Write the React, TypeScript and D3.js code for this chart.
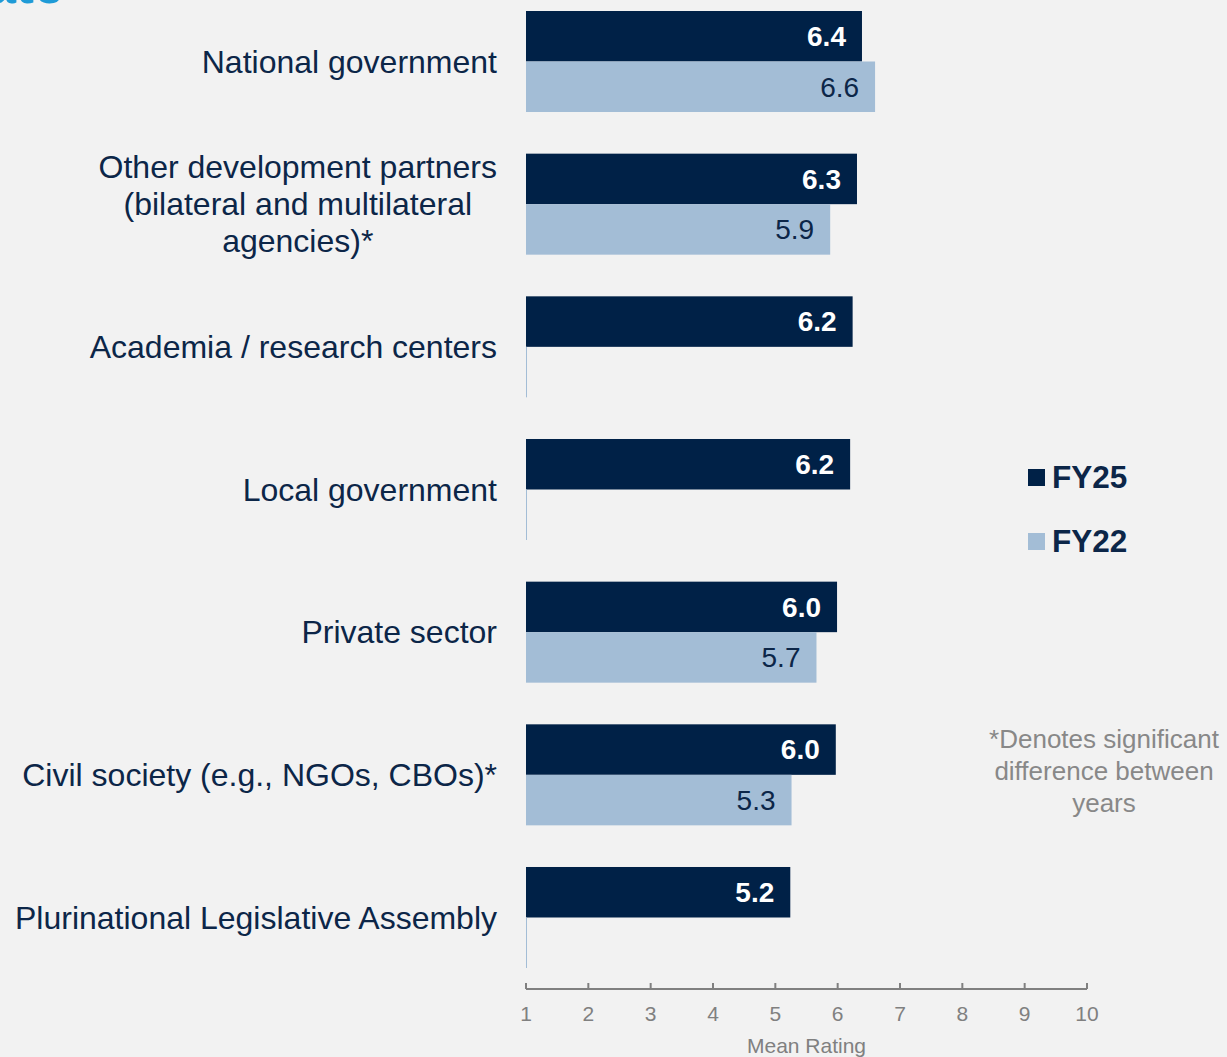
import React, { useEffect, useRef } from "react";
import * as d3 from "d3";

const categories = [
  "National government",
  "Other development partners|(bilateral and multilateral|agencies)*",
  "Academia / research centers",
  "Local government",
  "Private sector",
  "Civil society (e.g., NGOs, CBOs)*",
  "Plurinational Legislative Assembly",
];
const fy25 = [6.39, 6.31, 6.24, 6.2, 5.99, 5.97, 5.24];
const fy22: (number | null)[] = [6.6, 5.88, null, null, 5.66, 5.26, null];
const series = ["FY25", "FY22"];
const ticks = [1, 2, 3, 4, 5, 6, 7, 8, 9, 10];
const footnote = ["*Denotes significant", "difference between", "years"];

const W = 1227;
const H = 1057;
const FONT = "'Liberation Sans', Arial, Helvetica, sans-serif";
const NAVY = "#002147";
const LIGHT = "#a3bdd6";
const TEXT = "#0c2648";
const GRAY = "#888888";
const AXIS = "#808080";

export default function App() {
  const ref = useRef<SVGSVGElement>(null);
  useEffect(() => {
    const svg = d3.select(ref.current);
    svg.selectAll("*").remove();
    svg.append("rect").attr("width", W).attr("height", H).attr("fill", "#f2f2f2");

    // cropped title remnant (title lies above the visible area)
    svg.append("text").attr("x", -14).attr("y", 3).attr("font-family", FONT)
      .attr("font-weight", "bold").attr("font-size", 54).attr("fill", "#1f9bd7").text("ate");

    const x = d3.scaleLinear().domain([1, 10]).range([526, 1087]);
    const y = d3.scaleBand<number>().domain(d3.range(categories.length)).range([11, 968])
      .paddingInner(0.292).paddingOuter(0);
    const ys = d3.scaleBand<string>().domain(series).range([0, y.bandwidth()]);

    const g = svg.append("g");
    categories.forEach((cat, i) => {
      const y0 = y(i)!;
      const vals = [fy25[i], fy22[i]];
      vals.forEach((v, k) => {
        const s = series[k];
        const by = y0 + ys(s)!;
        const bh = ys.bandwidth();
        if (v == null) {
          g.append("line").attr("x1", x(1) + 0.5).attr("x2", x(1) + 0.5)
            .attr("y1", by).attr("y2", by + bh).attr("stroke", LIGHT).attr("stroke-width", 1);
          return;
        }
        g.append("rect").attr("x", x(1)).attr("y", by).attr("width", x(v) - x(1))
          .attr("height", bh).attr("fill", k === 0 ? NAVY : LIGHT);
        g.append("text").attr("x", x(v) - 16).attr("y", by + bh / 2).attr("dy", "0.35em")
          .attr("text-anchor", "end").attr("font-family", FONT).attr("font-size", 28)
          .attr("font-weight", k === 0 ? "bold" : "normal")
          .attr("fill", k === 0 ? "#ffffff" : TEXT).text(v.toFixed(1));
      });
      // category label
      const lines = cat.split("|");
      const cy = y0 + y.bandwidth() / 2;
      const lh = 37;
      const t = g.append("text").attr("font-family", FONT).attr("font-size", 32).attr("fill", TEXT);
      const spans = lines.map((ln, j) =>
        t.append("tspan").attr("x", 497).attr("y", cy + (j - (lines.length - 1) / 2) * lh)
          .attr("dy", "0.35em").attr("text-anchor", "end").text(ln)
      );
      if (lines.length > 1) {
        const widths = spans.map((sp) => (sp.node() as SVGTSpanElement).getComputedTextLength());
        const maxW = Math.max(...widths);
        const cx = 497 - maxW / 2;
        spans.forEach((sp) => sp.attr("x", cx).attr("text-anchor", "middle"));
      }
    });

    // x axis
    const ay = 989;
    const ax = svg.append("g");
    ax.append("line").attr("x1", x(1)).attr("x2", x(10)).attr("y1", ay).attr("y2", ay)
      .attr("stroke", AXIS).attr("stroke-width", 2);
    ticks.forEach((tk) => {
      ax.append("line").attr("x1", x(tk)).attr("x2", x(tk)).attr("y1", ay - 6).attr("y2", ay)
        .attr("stroke", AXIS).attr("stroke-width", 2);
      ax.append("text").attr("x", x(tk)).attr("y", 1021).attr("text-anchor", "middle")
        .attr("font-family", FONT).attr("font-size", 21).attr("fill", AXIS).text(String(tk));
    });
    ax.append("text").attr("x", (x(1) + x(10)) / 2).attr("y", 1053).attr("text-anchor", "middle")
      .attr("font-family", FONT).attr("font-size", 21).attr("fill", AXIS).text("Mean Rating");

    // legend
    const lg = svg.append("g");
    series.forEach((s, k) => {
      const ly = 469 + k * 64;
      lg.append("rect").attr("x", 1028).attr("y", ly).attr("width", 17).attr("height", 17)
        .attr("fill", k === 0 ? NAVY : LIGHT);
      lg.append("text").attr("x", 1052).attr("y", ly + 19).attr("font-family", FONT)
        .attr("font-size", 31.5).attr("font-weight", "bold").attr("fill", TEXT).text(s);
    });

    // footnote
    footnote.forEach((ln, j) => {
      svg.append("text").attr("x", 1104).attr("y", 748 + j * 32).attr("text-anchor", "middle")
        .attr("font-family", FONT).attr("font-size", 26).attr("fill", GRAY).text(ln);
    });
  }, []);
  return (
    <svg ref={ref} width={W} height={H}
      style={{ position: "absolute", left: 0, top: 0, display: "block" }} />
  );
}
